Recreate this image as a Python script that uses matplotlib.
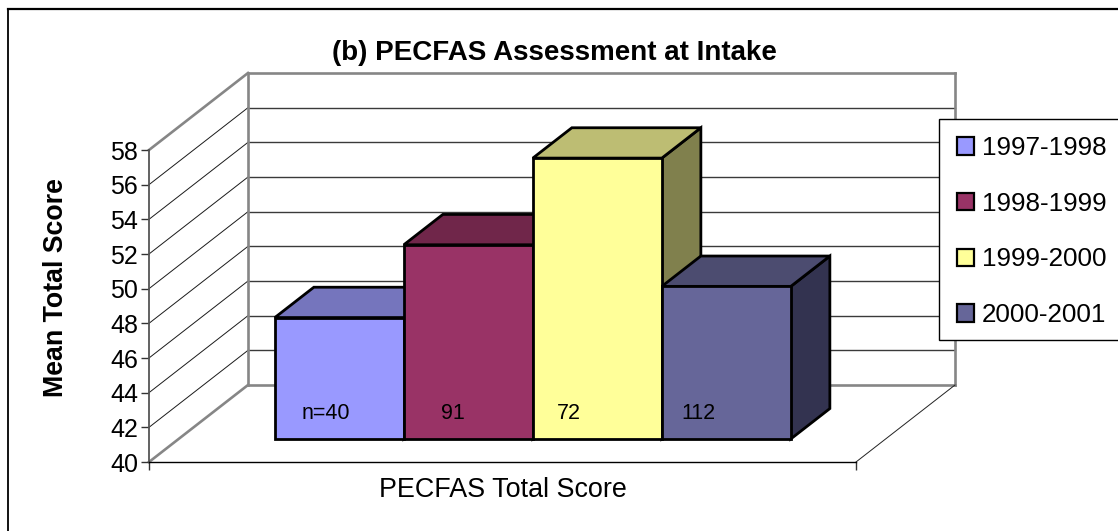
import matplotlib
matplotlib.use('Agg')
import matplotlib.pyplot as plt
from matplotlib.patches import Polygon, Patch, Rectangle

plt.rcParams['font.family'] = ['Liberation Sans', 'DejaVu Sans']

# Data
years = ['1997-1998', '1998-1999', '1999-2000', '2000-2001']
scores = [47.0, 51.2, 56.2, 48.8]
counts = ['n=40', '91', '72', '112']
front_colors = ['#9999FF', '#993366', '#FFFF99', '#666699']
top_colors = ['#7575BD', '#70264A', '#BDBD73', '#4C4C70']
side_colors = ['#55558C', '#5C1F3D', '#80804D', '#333350']
yticks = list(range(40, 60, 2))

W, H = 1118, 531
fig = plt.figure(figsize=(W / 100, H / 100), dpi=100)

# plot area in pixels of the reference
left, right, top, bottom = 149, 856, 150, 462
ax = fig.add_axes([left / W, 1 - bottom / H, (right - left) / W, (bottom - top) / H])
ax.set_xlim(0, 1)
ax.set_ylim(40, 58)
ax.patch.set_alpha(0)

# oblique depth of the 3D box, in data units
depth_x = 99 / 707
depth_y = 77 * 18 / 312


def proj(x, y, d):
    return (x + d * depth_x, y + d * depth_y)


def wall(points, **kw):
    ax.add_line(plt.Line2D(*zip(*points), clip_on=False, **kw))


# gridlines on side wall and back wall
for v in yticks:
    edge = v in (40, 58)
    c = '#868686' if edge else '#1a1a1a'
    lw = 1.9 if edge else 0.7
    wall([proj(0, v, 0), proj(0, v, 1)], color=c, lw=lw, zorder=1)
    wall([proj(0, v, 1), proj(1, v, 1)], color=c if edge else '#3a3a3a', lw=lw if edge else 1.0, zorder=1)
wall([proj(0, 40, 1), proj(0, 58, 1)], color='#868686', lw=1.9, zorder=1)
wall([proj(1, 40, 1), proj(1, 58, 1)], color='#868686', lw=1.9, zorder=1)
wall([proj(1, 40, 0), proj(1, 40, 1)], color='#222222', lw=0.7, zorder=1)

# bars
bar_w = 129 / 707
x0 = 0.136
d0, d1 = 0.3, 0.694
for i in range(4):
    xl = x0 + i * bar_w
    xr = xl + bar_w
    v = scores[i]
    style = dict(edgecolor='black', lw=2.0, joinstyle='miter', clip_on=False, zorder=3 + i)
    side = [proj(xr, 40, d0), proj(xr, 40, d1), proj(xr, v, d1), proj(xr, v, d0)]
    lid = [proj(xl, v, d0), proj(xr, v, d0), proj(xr, v, d1), proj(xl, v, d1)]
    face = [proj(xl, 40, d0), proj(xr, 40, d0), proj(xr, v, d0), proj(xl, v, d0)]
    ax.add_patch(Polygon(side, facecolor=side_colors[i], **style))
    ax.add_patch(Polygon(lid, facecolor=top_colors[i], **style))
    ax.add_patch(Polygon(face, facecolor=front_colors[i], **style))

# the counts sit inside the bars, at the same height
for i, off in zip(range(4), [0.038, 0.052, 0.034, 0.028]):
    tx, ty = proj(x0 + i * bar_w, 40, d0)
    ax.text(tx + off, ty + 1.45, counts[i], fontsize=15.5, va='center', ha='left', zorder=10)

# axes
for s in ['top', 'right']:
    ax.spines[s].set_visible(False)
ax.spines['left'].set_color('#555555')
ax.spines['left'].set_linewidth(1.3)
ax.spines['bottom'].set_color('black')
ax.spines['bottom'].set_linewidth(1.0)
ax.set_yticks(yticks)
ax.tick_params(axis='y', labelsize=18, length=6, width=1, color='#333333', pad=2)
ax.set_xticks([0, 1])
ax.set_xticklabels(['', ''])
ax.tick_params(axis='x', length=6, width=1, color='#333333')

fig.text(554 / W, 1 - 53 / H, '(b) PECFAS Assessment at Intake', fontsize=20, fontweight='bold',
         ha='center', va='center')
fig.text(503 / W, 1 - 490 / H, 'PECFAS Total Score', fontsize=19.4, ha='center', va='center')
fig.text(56 / W, 1 - 288 / H, 'Mean Total Score', fontsize=19.3, fontweight='bold', rotation=90,
         ha='center', va='center')

# chart border: only top and left edges are visible
fig.add_artist(plt.Line2D([8 / W, 8 / W], [1 - 9 / H, 0], color='black', lw=1.3))
fig.add_artist(plt.Line2D([8 / W, 1], [1 - 9 / H, 1 - 9 / H], color='black', lw=1.6))

# legend box runs off the right edge of the picture
box = Rectangle((939 / W, 1 - 340 / H), 200 / W, 221 / H, transform=fig.transFigure,
                facecolor='white', edgecolor='black', lw=1.0, zorder=20)
fig.add_artist(box)
handles = [Patch(facecolor=c, edgecolor='black', lw=1.6) for c in front_colors]
leg = fig.legend(handles, years, loc='upper left', bbox_to_anchor=(957 / W, 1 - 136 / H),
                 bbox_transform=fig.transFigure, fontsize=18.7, frameon=False, borderaxespad=0,
                 handlelength=0.66, handleheight=0.66, handletextpad=0.3, labelspacing=1.22,
                 borderpad=0)
leg.set_zorder(21)

fig.savefig('out.png', dpi=100)
